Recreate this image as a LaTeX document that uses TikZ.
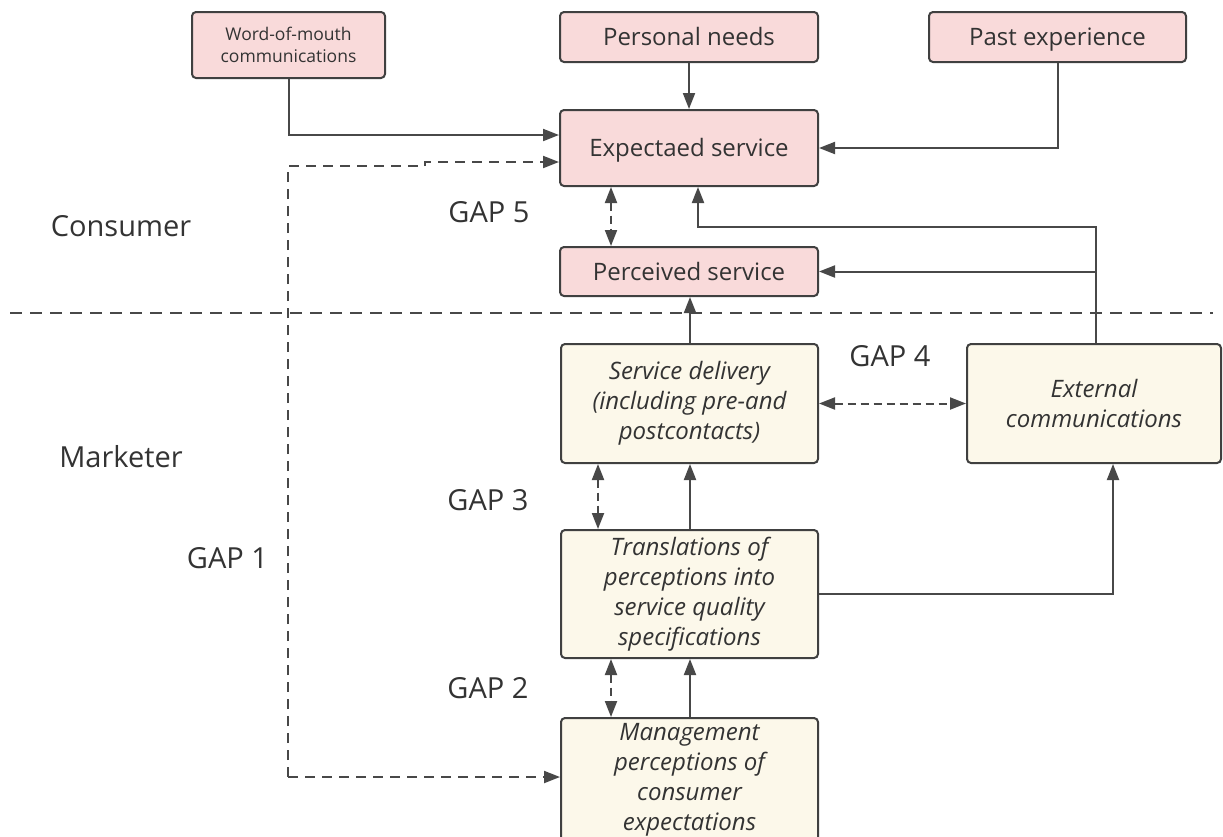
\documentclass[tikz,border=0pt]{standalone}
\usepackage{fontspec}
\setmainfont{Open Sans}
\usetikzlibrary{arrows.meta,calc}
\definecolor{pinkfill}{HTML}{F9DADA}
\definecolor{creamfill}{HTML}{FCF8EA}
\definecolor{edge}{HTML}{404040}
\definecolor{linec}{HTML}{484848}
\definecolor{txt}{HTML}{333333}
\begin{document}
\begin{tikzpicture}[x=1pt,y=-1pt,
  box/.style={draw=edge,line width=2pt,rounded corners=4pt,inner sep=0pt,align=center,text=txt,font=\fontsize{24}{30}\selectfont},
  pbox/.style={box,fill=pinkfill,text height=17pt,text depth=0pt},
  cbox/.style={box,fill=creamfill,font=\fontsize{24}{30}\selectfont\itshape},
  tip/.tip={Triangle[length=16pt,width=12pt]},
  arr/.style={draw=linec,line width=2pt,-tip},
  darr/.style={draw=linec,line width=2pt,dash pattern=on 8pt off 5pt,tip-tip},
  dline/.style={draw=linec,line width=2pt,dash pattern=on 10pt off 7pt,-tip},
  lbl/.style={text=txt,font=\fontsize{29}{34}\selectfont,inner sep=0pt,text height=21pt,text depth=0pt},
]
\useasboundingbox (0,0) rectangle (1223,836);
\fill[white] (0,0) rectangle (1223,836);

% consumer side
\node[box,fill=pinkfill,minimum width=193pt,minimum height=66pt,font=\fontsize{17.5}{22}\selectfont] (wom) at (288.5,45) {Word-of-mouth\\communications};
\node[pbox,minimum width=258pt,minimum height=50pt] (pn) at (689,37) {Personal needs};
\node[pbox,minimum width=257pt,minimum height=50pt] (pe) at (1057.5,37) {Past experience};
\node[pbox,minimum width=258pt,minimum height=76pt] (es) at (689,148) {Expectaed service};
\node[pbox,minimum width=258pt,minimum height=49pt] (ps) at (689,271.5) {Perceived service};

% marketer side
\node[cbox,minimum width=257pt,minimum height=119pt] (sd) at (689.5,403.5) {Service delivery\\(including pre-and\\postcontacts)};
\node[cbox,minimum width=254pt,minimum height=119pt] (ec) at (1094,403.5) {External\\communications};
\node[cbox,minimum width=257pt,minimum height=128pt] (tr) at (689.5,594) {Translations of\\perceptions into\\service quality\\specifications};
\node[cbox,minimum width=257pt,minimum height=124pt] (mg) at (689.5,780) {Management\\perceptions of\\consumer\\expectations};

% labels
\node[lbl] (consumer) at (121,226) {Consumer};
\node[lbl] (marketer) at (121,457) {Marketer};
\node[lbl] (gap5) at (489,212) {GAP 5};
\node[lbl] (gap4) at (890,356) {GAP 4};
\node[lbl] (gap3) at (488,500) {GAP 3};
\node[lbl] (gap1) at (227.5,558) {GAP 1};
\node[lbl] (gap2) at (488,688) {GAP 2};

% separator
\draw[draw=linec,line width=2pt,dash pattern=on 12pt off 8pt] (10,313) -- (1213,313);

% coordinates
\coordinate (womy) at (0,135);
\coordinate (g5) at (611,0);
\coordinate (ecx) at (1096,0);
\coordinate (esx) at (698,0);
\coordinate (top) at (0,227);
\coordinate (g3) at (598,0);
\coordinate (up) at (690,0);
\coordinate (g2) at (611,0);
\coordinate (trx) at (1113,0);
\coordinate (d1) at (288,166);
\coordinate (d2) at (425,166);
\coordinate (d3) at (425,162);
\coordinate (d4) at (288,777);
\coordinate (dy) at (0,162);

% solid connectors
\draw[arr] (wom.south) |- (es.west |- womy);
\draw[arr] (pn.south) -- (es.north);
\draw[arr] (pe.south) |- (es.east);
\draw[arr] (ec.north -| ecx) -- (ecx |- top) -- (esx |- top) -- (es.south -| esx);
\draw[arr] (ecx |- ps.east) -- (ps.east);
\draw[arr] (sd.north -| up) -- (ps.south -| up);
\draw[arr] (tr.north -| up) -- (sd.south -| up);
\draw[arr] (mg.north -| up) -- (tr.south -| up);
\draw[arr] (tr.east) -- (trx |- tr.east) -- (ec.south -| trx);

% dashed connectors
\draw[darr] (es.south -| g5) -- (ps.north -| g5);
\draw[darr] (sd.east) -- (ec.west);
\draw[darr] (sd.south -| g3) -- (tr.north -| g3);
\draw[darr] (tr.south -| g2) -- (mg.north -| g2);
\draw[dline] (d4) -- (d1) -- (d2) -- (d3) -- (es.west |- dy);
\draw[dline] (d4) -- (mg.west |- d4);
\end{tikzpicture}
\end{document}
